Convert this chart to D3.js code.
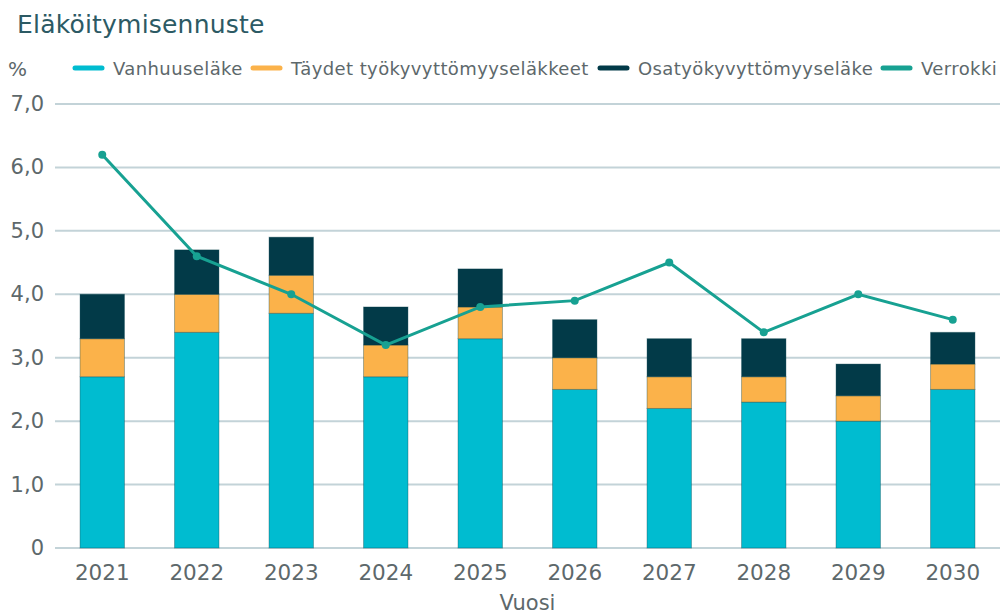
<!DOCTYPE html>
<html lang="fi">
<head>
    <meta charset="UTF-8">
    <title>Eläköitymisennuste</title>
    <script src="https://d3js.org/d3.v7.min.js"></script>
    <style>
        body { margin: 0; background: #fff; }
        text { font-family: "DejaVu Sans", Verdana, sans-serif; }
    </style>
</head>
<body>
    <svg id="chart" width="1003" height="614"></svg>

    <script>
        // Data
        const years = ["2021", "2022", "2023", "2024", "2025", "2026", "2027", "2028", "2029", "2030"];
        const vanhuus = [2.7, 3.4, 3.7, 2.7, 3.3, 2.5, 2.2, 2.3, 2.0, 2.5];
        const taydet = [0.6, 0.6, 0.6, 0.5, 0.5, 0.5, 0.5, 0.4, 0.4, 0.4];
        const osa = [0.7, 0.7, 0.6, 0.6, 0.6, 0.6, 0.6, 0.6, 0.5, 0.5];
        const verrokki = [6.2, 4.6, 4.0, 3.2, 3.8, 3.9, 4.5, 3.4, 4.0, 3.6];
        const yTicks = [0, 1, 2, 3, 4, 5, 6, 7];

        const seriesNames = ["Vanhuuseläke", "Täydet työkyvyttömyyseläkkeet", "Osatyökyvyttömyyseläke"];
        const colors = ["#00bcd0", "#fbb24a", "#023a48"];
        const lineColor = "#17a192";
        const textColor = "#5d686b";

        const svg = d3.select("#chart");
        const margin = { left: 55, right: 3, top: 104, bottom: 66 };
        const width = 1003, height = 614;

        const x = d3.scaleBand().domain(years)
            .range([margin.left, width - margin.right])
            .paddingInner(0.53).paddingOuter(0.265);
        const y = d3.scaleLinear().domain([0, 7]).range([height - margin.bottom, margin.top]);

        // Title
        svg.append("text").attr("x", 17).attr("y", 33)
            .attr("font-size", 25).attr("letter-spacing", 0.2).attr("fill", "#2c5a64")
            .text("Eläköitymisennuste");

        // Gridlines
        svg.append("g").selectAll("line").data(yTicks).join("line")
            .attr("x1", margin.left).attr("x2", width - margin.right)
            .attr("y1", d => y(d)).attr("y2", d => y(d))
            .attr("stroke", "#c3d3d8").attr("stroke-width", 2);

        // Y axis labels
        const fmt = d => d === 0 ? "0" : d.toFixed(1).replace(".", ",");
        svg.append("g").selectAll("text").data(yTicks).join("text")
            .attr("x", 44).attr("y", d => y(d) + 7)
            .attr("text-anchor", "end").attr("font-size", 21).attr("fill", textColor)
            .text(fmt);

        svg.append("text").attr("x", 8).attr("y", 76)
            .attr("font-size", 20).attr("fill", textColor).text("%");

        // Stacked bars
        const rows = years.map((yr, i) => ({ year: yr, a: vanhuus[i], b: taydet[i], c: osa[i] }));
        const stack = d3.stack().keys(["a", "b", "c"])(rows);

        svg.append("g").selectAll("g").data(stack).join("g")
            .attr("fill", (d, i) => colors[i])
            .selectAll("rect").data(d => d).join("rect")
            .attr("x", d => x(d.data.year))
            .attr("width", x.bandwidth())
            .attr("y", d => y(d[1]))
            .attr("height", d => y(d[0]) - y(d[1]))
            .attr("stroke", "rgba(0,60,70,0.35)").attr("stroke-width", 1);

        // Comparison line
        const line = d3.line()
            .x((d, i) => x(years[i]) + x.bandwidth() / 2)
            .y(d => y(d));

        svg.append("path").datum(verrokki)
            .attr("d", line).attr("fill", "none")
            .attr("stroke", lineColor).attr("stroke-width", 3);

        svg.append("g").selectAll("circle").data(verrokki).join("circle")
            .attr("cx", (d, i) => x(years[i]) + x.bandwidth() / 2)
            .attr("cy", d => y(d)).attr("r", 4)
            .attr("fill", lineColor);

        // X axis labels
        svg.append("g").selectAll("text").data(years).join("text")
            .attr("x", d => x(d) + x.bandwidth() / 2).attr("y", 580)
            .attr("text-anchor", "middle").attr("font-size", 21.5).attr("fill", textColor)
            .text(d => d);

        svg.append("text").attr("x", (margin.left + width - margin.right) / 2).attr("y", 610)
            .attr("text-anchor", "middle").attr("font-size", 21).attr("fill", textColor)
            .text("Vuosi");

        // Legend
        const legendItems = seriesNames.map((n, i) => ({ name: n, color: colors[i] }))
            .concat([{ name: "Verrokki", color: lineColor }]);
        const legendX = [75, 253, 600, 883];
        const lg = svg.append("g").selectAll("g").data(legendItems).join("g")
            .attr("transform", (d, i) => `translate(${legendX[i]},68)`);
        lg.append("line").attr("x1", 0).attr("x2", 27)
            .attr("stroke", d => d.color).attr("stroke-width", 5)
            .attr("stroke-linecap", "round");
        lg.append("text").attr("x", 38).attr("y", 7)
            .attr("font-size", 18).attr("letter-spacing", 0.4).attr("fill", textColor)
            .text(d => d.name);
    </script>
</body>
</html>
